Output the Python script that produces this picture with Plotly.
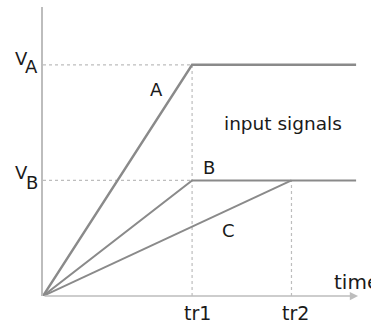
import plotly.graph_objects as go

# Data (time in arbitrary units, voltage in arbitrary units)
tr1 = 1.5
tr2 = 2.5
t_end = 3.15
VA = 2.0
VB = 1.0
x_labels = ["tr1", "tr2"]
y_labels = ["V", "V"]
y_subs = ["A", "B"]

sig_A_t = [0, tr1, t_end]
sig_A_v = [0, VA, VA]
sig_B_t = [0, tr1, t_end]
sig_B_v = [0, VB, VB]
sig_C_t = [0, tr2]
sig_C_v = [0, VB]

W, H = 371, 325
ML, MR, MT, MB = 43, 0, 7, 29
XR = [0, 3.3]
YR = [0, 2.5]
pw = W - ML - MR
ph = H - MT - MB


def px2px(px):
    return (px - ML) / pw


def py2py(py):
    return (H - MB - py) / ph


line_col = "#8a8a8a"
dash_col = "#bdbdbd"
axis_col = "#bdbdbd"
FONT = "DejaVu Sans"
txt_col = "#1a1a1a"

fig = go.Figure()

# dashed guides
guides = [
    ([0, tr1], [VA, VA]),
    ([tr1, tr1], [0, VA]),
    ([0, tr1], [VB, VB]),
    ([tr2, tr2], [0, VB]),
]
for gx, gy in guides:
    fig.add_trace(go.Scatter(x=gx, y=gy, mode="lines",
                             line=dict(color=dash_col, width=1.2, dash="3px,3px"),
                             hoverinfo="skip", showlegend=False, cliponaxis=False))

for tx, vy, w in [(sig_A_t, sig_A_v, 2.4), (sig_B_t, sig_B_v, 2), (sig_C_t, sig_C_v, 2)]:
    fig.add_trace(go.Scatter(x=tx, y=vy, mode="lines",
                             line=dict(color=line_col, width=w),
                             hoverinfo="skip", showlegend=False, cliponaxis=False))

ann = []
# x axis arrow
ann.append(dict(x=t_end + 0.02, y=0, ax=0, ay=0, xref="x", yref="y", axref="x", ayref="y",
                text="", showarrow=True, arrowhead=2, arrowsize=1.1, arrowwidth=1.5,
                arrowcolor=axis_col, standoff=0))


def label(text, cx, cy, size=18, xanchor="center"):
    ann.append(dict(x=px2px(cx), y=py2py(cy), xref="paper", yref="paper", text=text,
                    showarrow=False, xanchor=xanchor, yanchor="middle",
                    font=dict(family=FONT, size=size, color=txt_col)))


# x tick labels
label(x_labels[0], 197, 313, size=19)
label(x_labels[1], 295, 313, size=19)
# y tick labels (V with same-size subscript letter)
label(y_labels[0], 21, 58, size=18)
label(y_subs[0], 31, 67, size=18)
label(y_labels[1], 21, 172, size=18)
label(y_subs[1], 32, 182, size=18)
# curve labels
label("A", 156, 90, size=18)
label("B", 209, 167, size=18)
label("C", 229, 230, size=18)
label("input signals", 283, 123, size=18.5)
label("time", 332, 282, size=20, xanchor="left")

fig.update_layout(
    width=W, height=H,
    margin=dict(l=ML, r=MR, t=MT, b=MB, pad=0),
    paper_bgcolor="white", plot_bgcolor="white",
    xaxis=dict(range=XR, showgrid=False, zeroline=False, showticklabels=False,
               ticks="", showline=False, fixedrange=True),
    yaxis=dict(range=YR, showgrid=False, zeroline=False, showticklabels=False,
               ticks="", showline=True, linecolor=axis_col, linewidth=1.5, fixedrange=True),
    annotations=ann,
    showlegend=False,
)

fig.write_html("out.html", config={"displayModeBar": False},
               post_script="document.body.style.margin='0';document.body.style.overflow='hidden';")
